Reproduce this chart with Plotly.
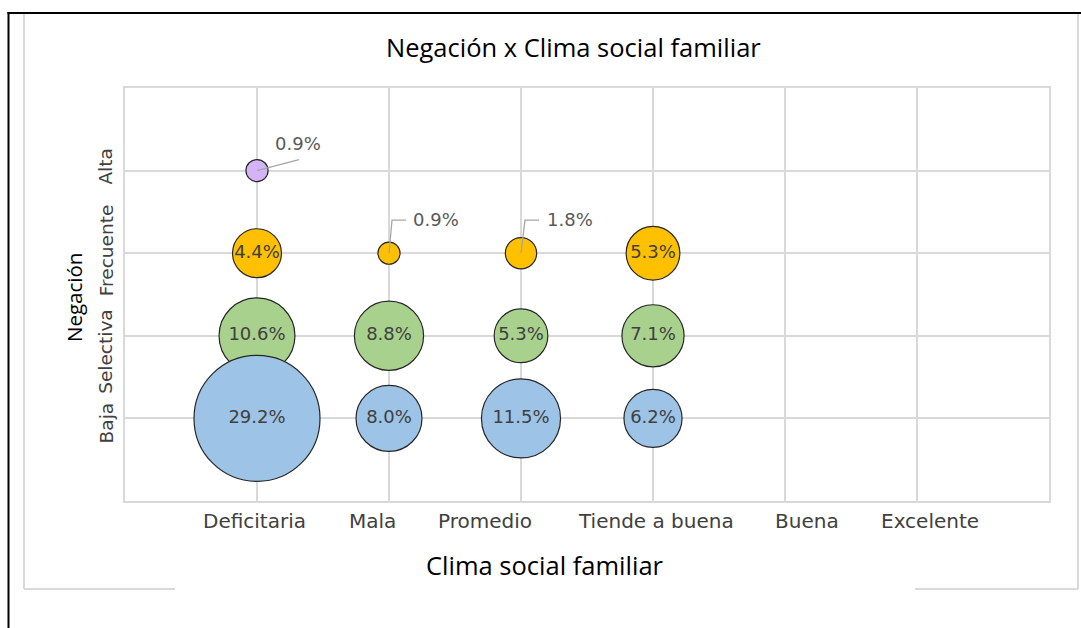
import plotly.graph_objects as go

# ---- data ----
x_categories = ["Deficitaria", "Mala", "Promedio", "Tiende a buena", "Buena", "Excelente"]
y_categories = ["Baja", "Selectiva", "Frecuente", "Alta"]

baja_x = ["Deficitaria", "Mala", "Promedio", "Tiende a buena"]
baja_vals = [29.2, 8.0, 11.5, 6.2]
selectiva_x = ["Deficitaria", "Mala", "Promedio", "Tiende a buena"]
selectiva_vals = [10.6, 8.8, 5.3, 7.1]
frecuente_x = ["Deficitaria", "Mala", "Promedio", "Tiende a buena"]
frecuente_vals = [4.4, 0.9, 1.8, 5.3]
alta_x = ["Deficitaria"]
alta_vals = [0.9]

title_text = "Negación x Clima social familiar"
x_title = "Clima social familiar"
y_title = "Negación"

# ---- layout geometry ----
W, H = 1081, 628
M_L, M_R, M_T, M_B = 125, 32, 88, 127
PW, PH = W - M_L - M_R, H - M_T - M_B


def px(x):
    return (x - M_L) / PW


def py(y):
    return (H - M_B - y) / PH


xi = {c: i + 1 for i, c in enumerate(x_categories)}
yi = {c: i + 1 for i, c in enumerate(y_categories)}

# label placement offsets (pixels), as in the reference layout
x_label_shift = {"Deficitaria": -3, "Mala": -17, "Promedio": -36,
                 "Tiende a buena": 3, "Buena": 22, "Excelente": 13}
y_label_shift = {"Baja": -5, "Selectiva": -16, "Frecuente": 3, "Alta": 4}

SIZEREF = 2 * 29.2 / (126 ** 2)
LABEL_FONT = dict(family="DejaVu Sans", size=18, color="#404040")
OUT_FONT = dict(family="DejaVu Sans", size=18, color="#595959")
OUTSIDE_MIN = 2.0  # values below this are labelled outside the bubble
LEADER = "#a6a6a6"

series = [
    ("Alta", alta_x, alta_vals, "#d5b3f7"),
    ("Frecuente", frecuente_x, frecuente_vals, "#ffc000"),
    ("Selectiva", selectiva_x, selectiva_vals, "#a9d18e"),
    ("Baja", baja_x, baja_vals, "#9dc3e6"),
]

# leader line path (pixels relative to bubble centre, y up) and text offset
outside_style = {
    ("Alta", "Deficitaria"): ("M 0 0 L 42 11", (41, 27)),
    ("Frecuente", "Mala"): ("M 0 0 L 3 33 L 17 33", (47, 34)),
    ("Frecuente", "Promedio"): ("M 0 0 L 4 33 L 18 33", (49, 34)),
}

fig = go.Figure()
annotations = []
shapes = []

for name, xs, vals, color in series:
    xv = [xi[c] for c in xs]
    yv = [yi[name]] * len(xs)
    texts = [f"{v:.1f}%" if v >= OUTSIDE_MIN else "" for v in vals]
    fig.add_trace(go.Scatter(
        x=xv, y=yv, mode="markers+text", name=name,
        text=texts, textposition="middle center", textfont=LABEL_FONT,
        marker=dict(size=vals, sizemode="area", sizeref=SIZEREF, color=color,
                    opacity=1, line=dict(color="#262626", width=1.2)),
        hoverinfo="skip", showlegend=False, cliponaxis=False,
    ))
    for c, v in zip(xs, vals):
        if v < OUTSIDE_MIN:
            path, (tx, ty) = outside_style.get((name, c), ("M 0 0 L 40 30", (45, 30)))
            shapes.append(dict(type="path", xref="x", yref="y",
                               xsizemode="pixel", ysizemode="pixel",
                               xanchor=xi[c], yanchor=yi[name], path=path,
                               line=dict(color=LEADER, width=1.3), layer="above"))
            annotations.append(dict(
                x=xi[c], y=yi[name], xref="x", yref="y",
                text=f"{v:.1f}%", font=OUT_FONT, showarrow=False,
                xshift=tx, yshift=ty, xanchor="center", yanchor="middle",
            ))

X_TICK_FONT = dict(family="DejaVu Sans", size=20, color="#404040")
Y_TICK_FONT = dict(family="DejaVu Sans", size=18.5, color="#404040")

# category labels
for c in x_categories:
    annotations.append(dict(x=xi[c], y=py(521), xref="x", yref="paper", text=c,
                            showarrow=False, font=X_TICK_FONT, xshift=x_label_shift[c],
                            xanchor="center", yanchor="middle"))
for c in y_categories:
    annotations.append(dict(x=px(106), y=yi[c], xref="paper", yref="y", text=c,
                            showarrow=False, font=Y_TICK_FONT, textangle=-90,
                            yshift=y_label_shift[c], xanchor="center", yanchor="middle"))

# titles
annotations.append(dict(x=px(573), y=py(47), xref="paper", yref="paper",
                        text=title_text, showarrow=False,
                        font=dict(family="Open Sans", size=25.5, color="#000000"),
                        xanchor="center", yanchor="middle"))
annotations.append(dict(x=px(545), y=py(565), xref="paper", yref="paper",
                        text=x_title, showarrow=False,
                        font=dict(family="Open Sans", size=25.5, color="#000000"),
                        xanchor="center", yanchor="middle"))
annotations.append(dict(x=px(74), y=py(298), xref="paper", yref="paper",
                        text=y_title, showarrow=False, textangle=-90,
                        font=dict(family="Open Sans", size=20.5, color="#000000"),
                        xanchor="center", yanchor="middle"))

GRID = "#d9d9d9"
shapes += [
    # outer gray chart border
    dict(type="line", xref="paper", yref="paper", x0=px(24), x1=px(24), y0=py(14), y1=py(589),
         line=dict(color=GRID, width=2)),
    dict(type="line", xref="paper", yref="paper", x0=px(1078), x1=px(1078), y0=py(14), y1=py(589),
         line=dict(color=GRID, width=2)),
    dict(type="line", xref="paper", yref="paper", x0=px(24), x1=px(175), y0=py(589), y1=py(589),
         line=dict(color=GRID, width=2)),
    dict(type="line", xref="paper", yref="paper", x0=px(915), x1=px(1078), y0=py(589), y1=py(589),
         line=dict(color=GRID, width=2)),
    # black frame
    dict(type="line", xref="paper", yref="paper", x0=px(8.5), x1=px(8.5), y0=py(12), y1=py(640),
         line=dict(color="#000000", width=2)),
    dict(type="line", xref="paper", yref="paper", x0=px(7.5), x1=px(1090), y0=py(13), y1=py(13),
         line=dict(color="#000000", width=2)),
]

fig.update_layout(
    width=W, height=H,
    margin=dict(l=M_L, r=M_R, t=M_T, b=M_B, autoexpand=False),
    paper_bgcolor="white", plot_bgcolor="white",
    showlegend=False,
    annotations=annotations, shapes=shapes,
    xaxis=dict(range=[0, len(x_categories) + 1],
               tickmode="linear", tick0=0, dtick=1, showticklabels=False,
               showgrid=True, gridcolor=GRID, gridwidth=1.5,
               showline=True, linecolor=GRID, linewidth=1.5, mirror=True,
               zeroline=False, ticks="", fixedrange=True),
    yaxis=dict(range=[0, len(y_categories) + 1],
               tickmode="linear", tick0=0, dtick=1, showticklabels=False,
               showgrid=True, gridcolor=GRID, gridwidth=1.5,
               showline=True, linecolor=GRID, linewidth=1.5, mirror=True,
               zeroline=False, ticks="", fixedrange=True),
)

fig.write_html("out.html", config={"displayModeBar": False},
               post_script="document.body.style.margin='0px';document.body.style.padding='0px';")
